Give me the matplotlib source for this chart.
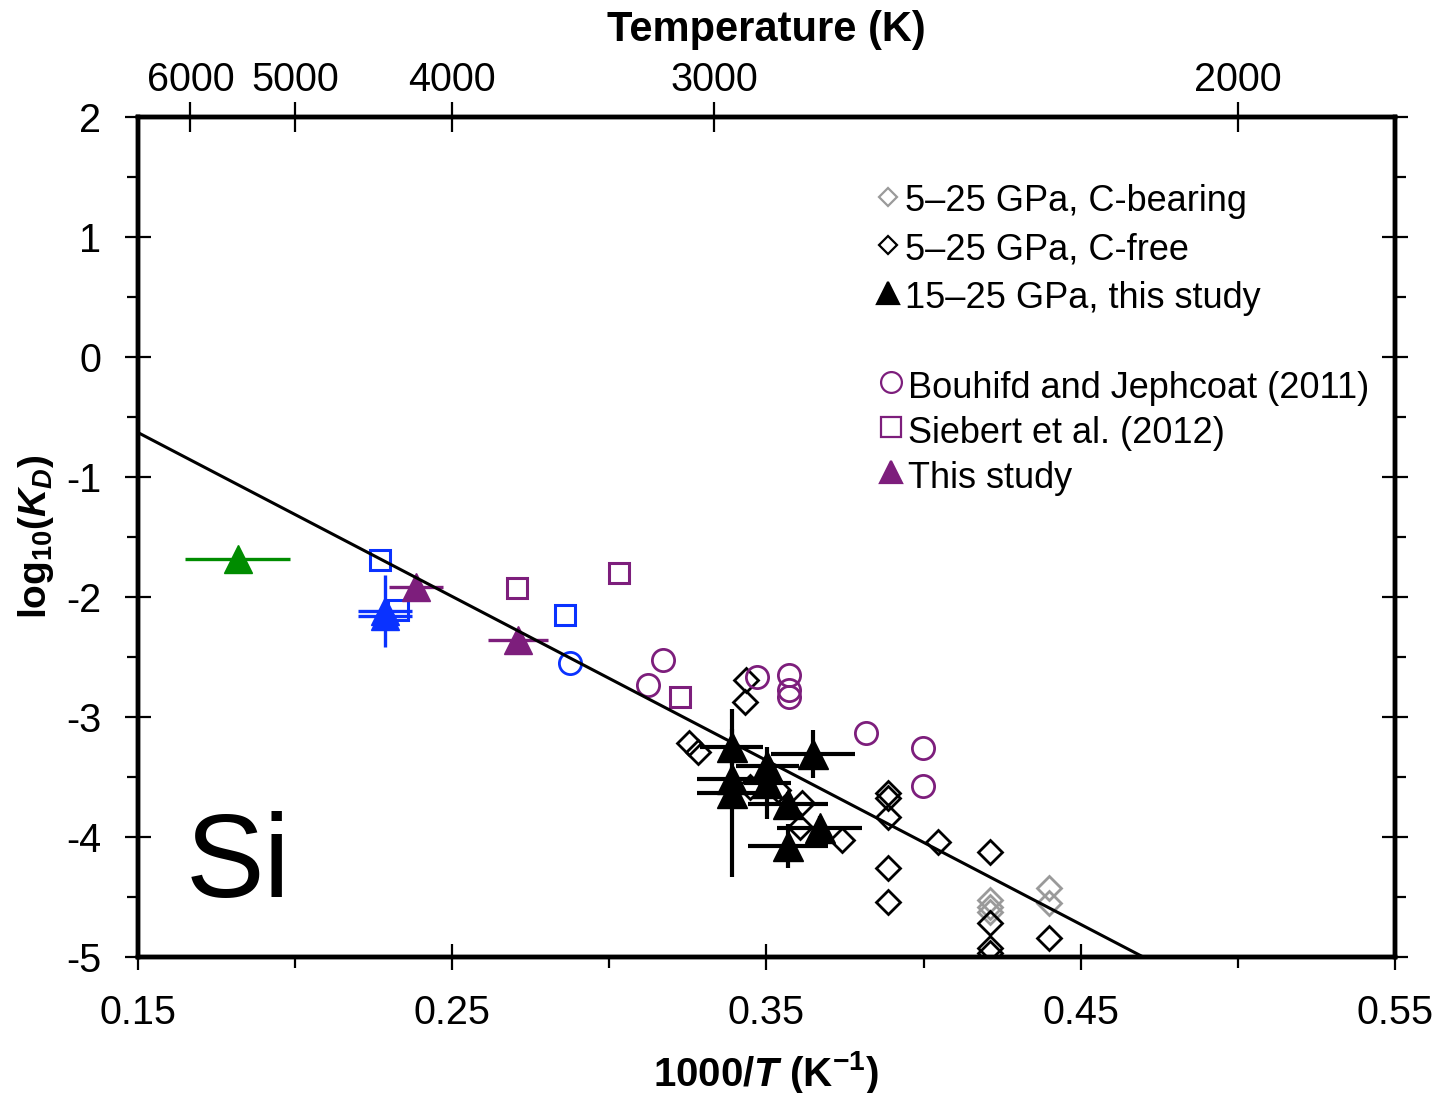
import numpy as np
import matplotlib.pyplot as plt
from matplotlib.ticker import FixedLocator, MultipleLocator

plt.rcParams['font.family'] = ['Liberation Sans', 'DejaVu Sans']
plt.rcParams['mathtext.fontset'] = 'custom'
plt.rcParams['mathtext.rm'] = 'Liberation Sans:bold'
plt.rcParams['mathtext.it'] = 'Liberation Sans:italic:bold'
plt.rcParams['mathtext.bf'] = 'Liberation Sans:bold'
plt.rcParams['axes.unicode_minus'] = False

# ---- data: x = 1000/T (1/K), y = log10(KD) ----
c_bearing_x = [0.4211, 0.4211, 0.4211, 0.4399, 0.4399]
c_bearing_y = [-4.525, -4.583, -4.625, -4.425, -4.55]

c_free_x = [0.3435, 0.3432, 0.3252, 0.3282, 0.3447, 0.3537, 0.3613, 0.3607,
            0.3740, 0.3887, 0.3887, 0.3887, 0.3887, 0.3887, 0.4046, 0.4211,
            0.4211, 0.4211, 0.4211, 0.4399]
c_free_y = [-2.69, -2.875, -3.217, -3.292, -3.583, -3.608, -3.717, -3.917,
            -4.025, -3.633, -3.675, -3.833, -4.258, -4.542, -4.042, -4.125,
            -4.717, -4.925, -4.967, -4.842]

hp_x = [0.3390, 0.3390, 0.3390, 0.3502, 0.3502, 0.3568, 0.3670, 0.3568, 0.3648]
hp_y = [-3.250, -3.517, -3.633, -3.408, -3.550, -3.725, -3.925, -4.075, -3.308]
hp_xerr = [0.0100, 0.0110, 0.0110, 0.0100, 0.0075, 0.0127, 0.0135, 0.0127, 0.0135]
hp_yerr = [0.15, 0.10, 0.70, 0.10, 0.30, 0.10, 0.10, 0.18, 0.20]

bj_x = [0.3123, 0.3171, 0.3470, 0.3572, 0.3572, 0.3572, 0.3817, 0.3998, 0.3998]
bj_y = [-2.733, -2.525, -2.667, -2.650, -2.775, -2.833, -3.133, -3.258, -3.575]

sieb_x = [0.2706, 0.3031, 0.3225]
sieb_y = [-1.925, -1.800, -2.833]

this_x = [0.2385, 0.2709]
this_y = [-1.917, -2.358]
this_xerr = [0.0086, 0.0096]

blue_sq_x = [0.2270, 0.2327, 0.2859]
blue_sq_y = [-1.692, -2.108, -2.150]
blue_circ_x = [0.2875]
blue_circ_y = [-2.55]
blue_tri_x = [0.2286, 0.2286]
blue_tri_y = [-2.117, -2.158]
blue_tri_xerr = [0.0085, 0.0085]
blue_tri_yerr = [0.30, 0.05]

green_x = [0.1818]
green_y = [-1.683]
green_xerr = [0.0167]

# linear fit log10(KD) = a + b * (1000/T)
fit_a = 1.419
fit_b = -13.66

temp_ticks = [6000, 5000, 4000, 3000, 2000]

purple = '#7d1e7c'
blue = '#0a32ff'
green = '#008c00'
grey = '#9a9a9a'

fig = plt.figure(figsize=(14.39, 10.93), dpi=100)
ax = fig.add_axes([0.0959, 0.1244, 0.8735, 0.7686])
ax.set_xlim(0.15, 0.55)
ax.set_ylim(-5, 2)

# fit line, from the left edge down to the bottom of the frame
x_end = (-5 - fit_a) / fit_b
xf = np.array([0.15, x_end])
ax.plot(xf, fit_a + fit_b * xf, color='black', lw=2.2, zorder=6)

# compiled literature diamonds
ax.plot(c_bearing_x, c_bearing_y, ls='none', marker='D', ms=12.5, mfc='none',
        mec=grey, mew=2.0, zorder=3)
ax.plot(c_free_x, c_free_y, ls='none', marker='D', ms=12.5, mfc='none',
        mec='black', mew=2.0, zorder=3)

# Bouhifd & Jephcoat and Siebert et al.
ax.plot(bj_x, bj_y, ls='none', marker='o', ms=16, mfc='none', mec=purple,
        mew=2.0, zorder=4)
ax.plot(sieb_x, sieb_y, ls='none', marker='s', ms=15, mfc='none', mec=purple,
        mew=2.2, zorder=4)
ax.plot(blue_sq_x, blue_sq_y, ls='none', marker='s', ms=15, mfc='none', mec=blue,
        mew=2.2, zorder=4)
ax.plot(blue_circ_x, blue_circ_y, ls='none', marker='o', ms=16, mfc='none',
        mec=blue, mew=2.0, zorder=4)

# this study, with error bars
ax.errorbar(this_x, this_y, xerr=this_xerr, fmt='none', ecolor=purple,
            elinewidth=2.4, capsize=0, zorder=5)
ax.plot(this_x, this_y, ls='none', marker='^', ms=20, color=purple, zorder=5)

ax.errorbar(blue_tri_x, blue_tri_y, xerr=blue_tri_xerr, yerr=blue_tri_yerr,
            fmt='none', ecolor=blue, elinewidth=2.4, capsize=0, zorder=5)
ax.plot(blue_tri_x, blue_tri_y, ls='none', marker='^', ms=20, color=blue, zorder=5)

ax.errorbar(green_x, green_y, xerr=green_xerr, fmt='none', ecolor=green,
            elinewidth=2.4, capsize=0, zorder=5)
ax.plot(green_x, green_y, ls='none', marker='^', ms=20, color=green, zorder=5)

ax.errorbar(hp_x, hp_y, xerr=hp_xerr, yerr=hp_yerr, fmt='none', ecolor='black',
            elinewidth=3.0, capsize=0, zorder=5)
ax.plot(hp_x, hp_y, ls='none', marker='^', ms=21, color='black', zorder=5)

# axes styling
for s in ax.spines.values():
    s.set_linewidth(3.2)
ax.xaxis.set_major_locator(FixedLocator([0.15, 0.25, 0.35, 0.45, 0.55]))
ax.xaxis.set_minor_locator(FixedLocator([0.20, 0.30, 0.40, 0.50]))
ax.yaxis.set_major_locator(MultipleLocator(1))
ax.yaxis.set_minor_locator(MultipleLocator(0.5))
ax.set_xticklabels(['0.15', '0.25', '0.35', '0.45', '0.55'])
ax.tick_params(axis='both', which='major', direction='inout', length=19,
               width=1.6, labelsize=28.5)
ax.tick_params(axis='both', which='minor', direction='out', length=8, width=1.6)
ax.tick_params(axis='y', which='both', right=True)
ax.tick_params(axis='y', which='major', pad=17)
ax.tick_params(axis='x', which='major', pad=17)

ax.set_xlabel('1000/$T$ (K$^{-1}$)', fontsize=29, fontweight='bold', labelpad=12)
ax.set_ylabel('log$_{10}$($K_D$)', fontsize=28, fontweight='bold', labelpad=7)

# temperature scale on top
ax2 = ax.twiny()
ax2.set_xlim(ax.get_xlim())
ax2.set_xticks([1000.0 / t for t in temp_ticks])
ax2.set_xticklabels([str(t) for t in temp_ticks])
ax2.xaxis.set_minor_locator(FixedLocator([]))
ax2.tick_params(axis='x', which='major', direction='inout', length=22, width=1.6,
                labelsize=28.5, pad=2)
ax2.set_xlabel('Temperature (K)', fontsize=30, fontweight='bold', labelpad=14)
for s in ax2.spines.values():
    s.set_linewidth(3.2)

ax.text(0.038, 0.0714, 'Si', transform=ax.transAxes, fontsize=85,
        ha='left', va='baseline')

# legend keys
legend_rows = [
    (0.5967, 0.9048, 'D', 9, 'none', grey, '5\u201325 GPa, C-bearing', 0.888),
    (0.5967, 0.8476, 'D', 9, 'none', 'black', '5\u201325 GPa, C-free', 0.8298),
    (0.5967, 0.7905, '^', 16, 'black', 'black', '15\u201325 GPa, this study', 0.7726),
    (0.5990, 0.6845, 'o', 15, 'none', purple, 'Bouhifd and Jephcoat (2011)', 0.6655),
    (0.5990, 0.6310, 's', 14, 'none', purple, 'Siebert et al. (2012)', 0.6119),
    (0.5990, 0.5774, '^', 16, purple, purple, 'This study', 0.5583),
]
for mx, my, mk, ms, fc, ec, label, ty in legend_rows:
    ax.plot([mx], [my], transform=ax.transAxes, marker=mk, ms=ms, mfc=fc,
            mec=ec, mew=1.6, ls='none', clip_on=False, zorder=7)
    ax.text(mx + 0.0135, ty, label, transform=ax.transAxes, fontsize=26,
            ha='left', va='baseline')

fig.savefig('out.png', dpi=100)
